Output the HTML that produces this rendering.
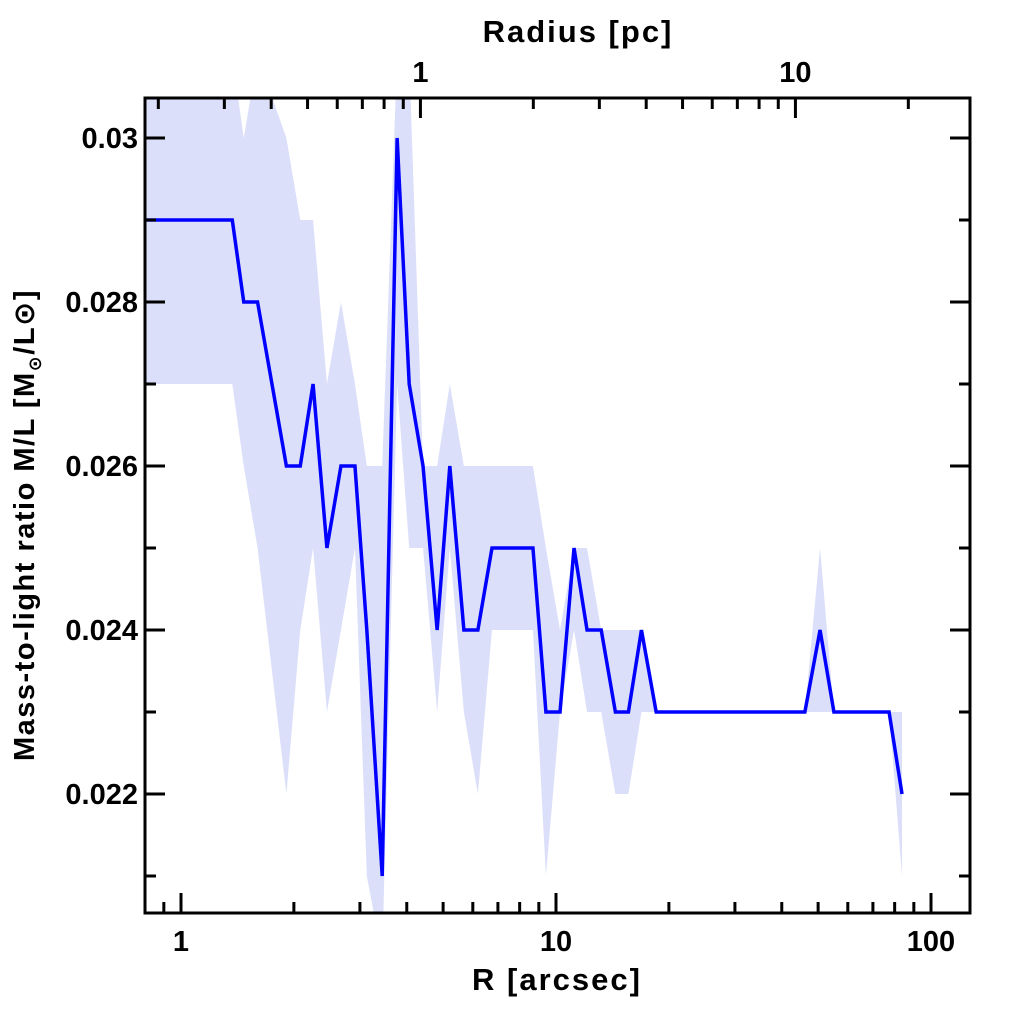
<!DOCTYPE html>
<html><head><meta charset="utf-8"><style>
body{margin:0;background:#fff;}
svg text{font-family:"Liberation Sans","DejaVu Sans",sans-serif;font-weight:bold;fill:#000;}
</style></head><body>
<svg id="chart" width="1024" height="1024" viewBox="0 0 1024 1024" xmlns="http://www.w3.org/2000/svg">
<g id="band"></g>
<g id="line"></g>
<g id="axes"></g>
</svg>
<script>
const radiusArcsec=[0.78,1.37,1.47,1.60,1.91,2.08,2.25,2.45,2.67,2.91,3.13,3.44,3.77,4.06,4.42,4.82,5.21,5.68,6.19,6.75,8.68,9.40,10.25,11.17,12.1,13.2,14.4,15.6,16.9,18.5,46.1,50.6,55.1,77.3,83.7];
const mlValues=[29,29,28,28,26,26,27,25,26,26,24,21,30,27,26,24,26,24,24,25,25,23,23,25,24,24,23,23,24,23,23,24,23,23,22];
const mlUpper=[31,31,30,31,30,29,29,27,28,27,26,26,31,31,26,26,27,26,26,26,26,25,24,25,25,24,24,24,24,23,23,25,23,23,23];
const mlLower=[27,27,26,25,22,24,25,23,24,25,21,20,27,25,25,23,25,23,22,24,24,21,23,24,23,23,22,22,23,23,23,23,23,23,21];
const yTicksMajor=[0.022,0.024,0.026,0.028,0.030];
const yTickLabels=["0.022","0.024","0.026","0.028","0.03"];
const xTickLabels=["1","10","100"];
const pcTickLabels=["1","10"];
const ARCSEC_PER_PC=4.35;

const L=145,R=970,T=98,B=913;
const X=v=>181+375*Math.log10(v);
const Y=v=>138+(0.030-v)*82000;
const NS="http://www.w3.org/2000/svg";
function mk(tag,attrs,parent){const e=document.createElementNS(NS,tag);for(const k in attrs)e.setAttribute(k,attrs[k]);parent.appendChild(e);return e;}

const svg=document.getElementById('chart');
const defs=mk('defs',{},svg);
const cp=mk('clipPath',{id:'clip'},defs);
mk('rect',{x:L,y:T,width:R-L,height:B-T},cp);

const bandG=document.getElementById('band');
bandG.setAttribute('clip-path','url(#clip)');
let pts=[];
for(let i=0;i<radiusArcsec.length;i++)pts.push(X(radiusArcsec[i])+','+Y(mlUpper[i]/1000));
for(let i=radiusArcsec.length-1;i>=0;i--)pts.push(X(radiusArcsec[i])+','+Y(mlLower[i]/1000));
const poly=mk('polygon',{points:pts.join(' '),fill:'#dcdffa',stroke:'none'},bandG);



const lineG=document.getElementById('line');
lineG.setAttribute('clip-path','url(#clip)');
const lp=radiusArcsec.map((r,i)=>X(r)+','+Y(mlValues[i]/1000)).join(' ');
const pl=mk('polyline',{points:lp,fill:'none',stroke:'#0000ff','stroke-width':3.5,'stroke-linejoin':'miter'},lineG);



const ax=document.getElementById('axes');
const fr=mk('rect',{x:L,y:T,width:R-L,height:B-T,fill:'none',stroke:'#000','stroke-width':3},ax);


function tick(x1,y1,x2,y2){mk('line',{x1,y1,x2,y2,stroke:'#000','stroke-width':3},ax);}
for(let v=0.020;v<=0.0305;v+=0.001){const y=Y(v);if(y<T||y>B)continue;const maj=Math.round(v*1000)%2===0;const len=maj?20:11;tick(L,y,L+len,y);tick(R,y,R-len,y);}
yTicksMajor.forEach((v,i)=>{const t=mk('text',{x:L-7,y:Y(v)+10,'text-anchor':'end','font-size':29},ax);t.textContent=yTickLabels[i];});
for(let d=0.1;d<=100;d*=10){for(let m=1;m<10;m++){const v=d*m;const x=X(v);if(x<L||x>R)continue;const len=m===1?20:11;tick(x,B,x,B-len);}}
[1,10,100].forEach((v,i)=>{const t=mk('text',{x:X(v),y:951,'text-anchor':'middle','font-size':29},ax);t.textContent=xTickLabels[i];});
for(let d=0.1;d<=100;d*=10){for(let m=1;m<10;m++){const v=d*m;const x=X(v*ARCSEC_PER_PC);if(x<L||x>R)continue;const len=m===1?20:11;tick(x,T,x,T+len);}}
[1,10].forEach((v,i)=>{const t=mk('text',{x:X(v*ARCSEC_PER_PC),y:82,'text-anchor':'middle','font-size':29},ax);t.textContent=pcTickLabels[i];});

const xt=mk('text',{x:557,y:990,'text-anchor':'middle','font-size':31,'letter-spacing':2},ax);
xt.textContent='R [arcsec]';


const tt=mk('text',{x:578,y:42,'text-anchor':'middle','font-size':31,'letter-spacing':2},ax);
tt.textContent='Radius [pc]';


const yt=mk('text',{x:0,y:0,'text-anchor':'middle','font-size':29,'letter-spacing':1.5,transform:'translate(34,525) rotate(-90)'},ax);
yt.innerHTML='Mass-to-light ratio M/L [M<tspan font-size="18" dy="7">⊙</tspan><tspan dy="-7">/L⊙]</tspan>';


</script>
</body></html>
